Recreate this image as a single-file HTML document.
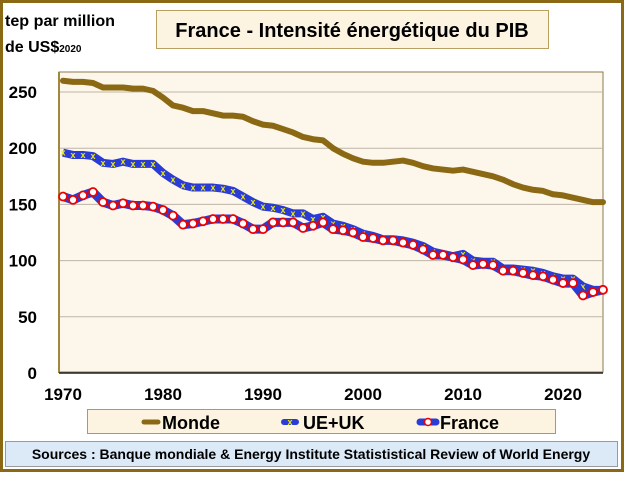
<!DOCTYPE html>
<html><head><meta charset="utf-8"><style>
body{margin:0;width:624px;height:472px;overflow:hidden;background:#fff;font-family:"Liberation Sans",sans-serif}
</style></head><body>
<svg id="s" width="624" height="472" xmlns="http://www.w3.org/2000/svg" font-family="Liberation Sans, sans-serif" font-weight="bold">
<rect x="1.5" y="1.5" width="621" height="469" fill="#fff" stroke="#8B6914" stroke-width="3"/>
<rect x="59" y="72" width="544" height="300" fill="#fdf6ea" stroke="#8a7a50" stroke-width="1"/>
<g id="grid" stroke="#bdb6a8" stroke-width="1"></g>
<line x1="59" y1="72" x2="59" y2="373" stroke="#a08840" stroke-width="2"/>
<line x1="59" y1="373" x2="603" y2="373" stroke="#222" stroke-width="1.5"/>
<g font-size="17" fill="#000" text-anchor="end" id="yl"></g>
<g font-size="17" fill="#000" text-anchor="middle" id="xl"></g>
<g id="series"></g>
<text x="5" y="26" font-size="16" textLength="110" lengthAdjust="spacingAndGlyphs">tep par million</text>
<text x="5" y="52" font-size="16">de US$<tspan font-size="10">2020</tspan></text>
<rect x="156.5" y="10.5" width="392" height="38" fill="#fdf3e1" stroke="#b8a060"/>
<text x="352" y="37" font-size="20" text-anchor="middle">France - Intensité énergétique du PIB</text>
<rect x="87.5" y="409.5" width="468" height="24" fill="#fdf3e1" stroke="#999"/>
<line x1="144" y1="422" x2="158" y2="422" stroke="#8B6914" stroke-width="5" stroke-linecap="round"/>
<text x="162" y="429" font-size="18">Monde</text>
<line x1="284" y1="422" x2="296" y2="422" stroke="#2a3bd6" stroke-width="6" stroke-linecap="round"/>
<text x="290" y="425" font-size="9" fill="#ee0" text-anchor="middle">x</text>
<text x="303" y="429" font-size="18">UE+UK</text>
<line x1="420" y1="422" x2="436" y2="422" stroke="#2a3bd6" stroke-width="7" stroke-linecap="round"/>
<circle cx="428" cy="422" r="3.5" fill="#fff" stroke="#e00" stroke-width="1.5"/>
<text x="440" y="429" font-size="18">France</text>
<rect x="5.5" y="441.5" width="612" height="25" fill="#dce9f7" stroke="#999"/>
<text x="311" y="459" font-size="14" text-anchor="middle">Sources : Banque mondiale &amp; Energy Institute Statististical Review of World Energy</text>
</svg>
<script>
var ns="http://www.w3.org/2000/svg";
function el(t,a,p){var e=document.createElementNS(ns,t);for(var k in a)e.setAttribute(k,a[k]);document.getElementById(p).appendChild(e);return e;}
function Y(v){return 373-v*1.124;}function X(y){return 63+(y-1970)*10;}
for(var v=50;v<=250;v+=50)el("line",{x1:59,x2:603,y1:Y(v),y2:Y(v)},"grid");
for(var v=0;v<=250;v+=50){var t=el("text",{x:37,y:Y(v)+6},"yl");t.textContent=v;}
for(var y=1970;y<=2020;y+=10){var t=el("text",{x:X(y),y:400},"xl");t.textContent=y;}
var M=[260,259,259,258,254,254,254,253,253,251,245,238,236,233,233,231,229,229,228,224,221,220,217,214,210,208,207,200,195,191,188,187,187,188,189,187,184,182,181,180,181,179,177,175,172,168,165,163,162,159,158,156,154,152,152];
var E=[196,194,194,193,187,186,188,186,186,186,178,172,167,165,165,165,164,162,157,152,148,147,145,142,142,137,139,133,131,128,124,122,119,119,118,116,113,108,106,104,106,100,99,99,93,93,92,91,89,86,84,84,77,74,74];
var F=[157,154,158,161,152,149,151,149,149,148,145,140,132,133,135,137,137,137,133,128,128,134,134,134,129,131,134,128,127,125,121,120,118,118,116,114,110,105,105,103,101,96,97,96,91,91,89,87,86,83,80,80,69,72,74];
function pts(a){return a.map(function(v,i){return X(1970+i)+","+Y(v)}).join(" ");}
el("polyline",{points:pts(M),fill:"none",stroke:"#8B6914","stroke-width":6,"stroke-linejoin":"round","stroke-linecap":"round"},"series");
el("polyline",{points:pts(E),fill:"none",stroke:"#2a3bd6","stroke-width":8,"stroke-linejoin":"round"},"series");
E.forEach(function(v,i){var t=el("text",{x:X(1970+i),y:Y(v)+3,"font-size":9,fill:"#ee0","text-anchor":"middle"},"series");t.textContent="x";});
el("polyline",{points:pts(F),fill:"none",stroke:"#2a3bd6","stroke-width":9,"stroke-linejoin":"round"},"series");
F.forEach(function(v,i){el("circle",{cx:X(1970+i),cy:Y(v),r:4,fill:"#fff",stroke:"#e00","stroke-width":1.8},"series");});
</script>
</body></html>
